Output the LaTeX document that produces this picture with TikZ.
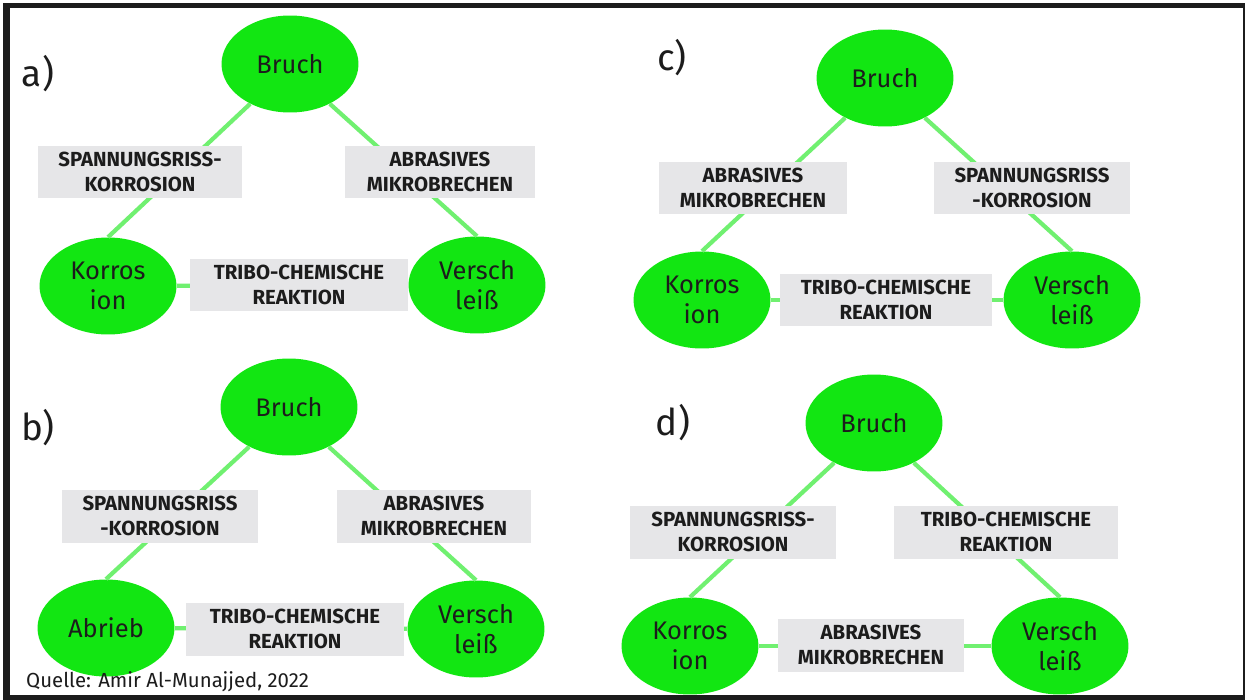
\documentclass[tikz,border=0pt]{standalone}
\usepackage{fontspec}
\setmainfont{Fira Sans}
\usetikzlibrary{shapes.geometric}

\definecolor{cellgreen}{RGB}{18,230,18}
\definecolor{linkgreen}{RGB}{112,240,112}
\definecolor{tagbg}{RGB}{230,230,232}
\definecolor{ink}{RGB}{28,28,28}

\begin{document}
\begin{tikzpicture}[x=0.02cm,y=-0.02cm,
  state/.style={ellipse,fill=cellgreen,inner sep=0pt,minimum width=2.74cm,minimum height=1.94cm,
    text=ink,align=center,font=\fontsize{14.5}{17}\selectfont},
  effect/.style={rectangle,fill=tagbg,inner sep=0pt,minimum height=1.06cm,text=ink,align=center,
    font=\fontsize{11.6}{14.2}\selectfont\bfseries},
  link/.style={linkgreen,line width=2.4pt},
  tag/.style={text=ink,font=\fontsize{21}{24}\selectfont}]
  \useasboundingbox (0,0) rectangle (1245,700);

  % Frame
  \fill[ink] (3,3) rectangle (1245,700);
  \fill[white] (10,8) rectangle (1243,695);

  % Panel a
  \node[tag] (taga) at (38,74) {a)};
  \node[state] (brucha) at (290,64) {Bruch};
  \node[state] (korra) at (108,286) {Korros\\ion};
  \node[state] (verscha) at (477,285) {Versch\\leiß};
  \draw[link] (brucha.225) -- (korra.north);
  \draw[link] (brucha.-45) -- (verscha.north);
  \draw[link] (korra) -- (verscha);
  \node[effect,minimum width=4.08cm] (sra) at (140,172) {SPANNUNGSRISS-\\KORROSION};
  \node[effect,minimum width=3.8cm] (aba) at (440,172) {ABRASIVES\\MIKROBRECHEN};
  \node[effect,minimum width=4.36cm] (tra) at (299,285) {TRIBO-CHEMISCHE\\REAKTION};

  % Panel b
  \node[tag] (tagb) at (38,428) {b)};
  \node[state] (bruchb) at (289,407) {Bruch};
  \node[state] (abriebb) at (106,628) {Abrieb};
  \node[state] (verschb) at (476,629) {Versch\\leiß};
  \draw[link] (bruchb.225) -- (abriebb.north);
  \draw[link] (bruchb.-45) -- (verschb.north);
  \draw[link] (abriebb) -- (verschb);
  \node[effect,minimum width=3.94cm] (srb) at (160,516) {SPANNUNGSRISS\\-KORROSION};
  \node[effect,minimum width=3.9cm] (abb) at (434,516) {ABRASIVES\\MIKROBRECHEN};
  \node[effect,minimum width=4.38cm] (trb) at (295,629) {TRIBO-CHEMISCHE\\REAKTION};

  % Panel c
  \node[tag] (tagc) at (672,58) {c)};
  \node[state] (bruchc) at (885,78) {Bruch};
  \node[state] (korrc) at (702,300) {Korros\\ion};
  \node[state] (verschc) at (1072,300) {Versch\\leiß};
  \draw[link] (bruchc.225) -- (korrc.north);
  \draw[link] (bruchc.-45) -- (verschc.north);
  \draw[link] (korrc) -- (verschc);
  \node[effect,minimum width=3.78cm] (abc) at (753,188) {ABRASIVES\\MIKROBRECHEN};
  \node[effect,minimum width=3.92cm] (src) at (1032,188) {SPANNUNGSRISS\\-KORROSION};
  \node[effect,minimum width=4.24cm] (trc) at (886,300) {TRIBO-CHEMISCHE\\REAKTION};

  % Panel d
  \node[tag] (tagd) at (673,423) {d)};
  \node[state] (bruchd) at (874,423) {Bruch};
  \node[state] (korrd) at (690,646) {Korros\\ion};
  \node[state] (verschd) at (1060,646) {Versch\\leiß};
  \draw[link] (bruchd.225) -- (korrd.north);
  \draw[link] (bruchd.-45) -- (verschd.north);
  \draw[link] (korrd) -- (verschd);
  \node[effect,minimum width=4.12cm] (srd) at (733,532) {SPANNUNGSRISS-\\KORROSION};
  \node[effect,minimum width=4.48cm] (trd) at (1006,532) {TRIBO-CHEMISCHE\\REAKTION};
  \node[effect,minimum width=3.74cm] (abd) at (871,645) {ABRASIVES\\MIKROBRECHEN};

  % Source
  \node[text=ink,anchor=west,font=\fontsize{11.6}{14}\selectfont] (quelle) at (20,682) {Quelle: Amir Al-Munajjed, 2022};
\end{tikzpicture}
\end{document}
